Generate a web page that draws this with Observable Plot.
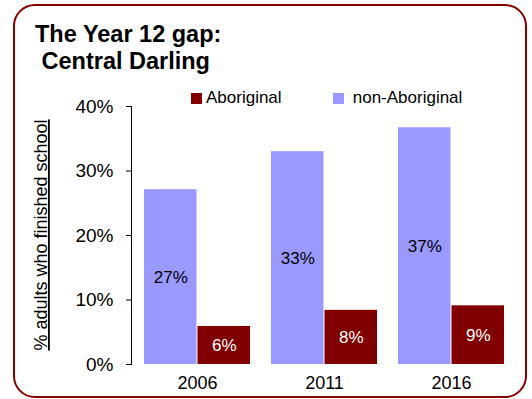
<!DOCTYPE html>
<html>
<head>
<meta charset="utf-8">
<script src="https://cdn.jsdelivr.net/npm/d3@7"></script>
<script src="https://cdn.jsdelivr.net/npm/@observablehq/plot@0.6"></script>
<style>
  html, body { margin: 0; padding: 0; background: #fff; }
  #wrap { position: relative; width: 532px; height: 399px; overflow: hidden; font-family: "Liberation Sans", Arial, sans-serif; }
  #border { position: absolute; left: 13px; top: 4px; width: 510px; height: 390px; border: 2.5px solid #850000; border-radius: 22px; pointer-events: none; }
  #title { position: absolute; left: 35px; top: 21px; font-weight: bold; font-size: 23.5px; line-height: 27px; color: #000; white-space: pre; }
  .leg { position: absolute; top: 88px; font-size: 17px; color: #000; display: flex; align-items: center; }
  .sw { width: 11px; height: 11px; display: inline-block; margin-right: 4px; }
  #chart { position: absolute; left: 0; top: 0; }
</style>
</head>
<body>
<div id="wrap">
  <div id="chart"></div>
  <div id="title">The Year 12 gap:
 Central Darling</div>
  <div class="leg" style="left:191px"><span class="sw" style="background:#800000"></span>Aboriginal</div>
  <div class="leg" style="left:333px"><span class="sw" style="background:#9999ff"></span>&nbsp;non-Aboriginal</div>
  <div id="border"></div>
</div>
<script>
const years = ["2006", "2011", "2016"];
const aboriginal = [5.9, 8.4, 9.1];
const nonAboriginal = [27.1, 33.0, 36.7];
const aboriginalLabels = ["6%", "8%", "9%"];
const nonAboriginalLabels = ["27%", "33%", "37%"];
const yTicks = [0, 10, 20, 30, 40];
const yTitle = "% adults who finished school";

const nonAbData = years.map((year, i) => ({year, value: nonAboriginal[i], label: nonAboriginalLabels[i]}));
const abData = years.map((year, i) => ({year, value: aboriginal[i], label: aboriginalLabels[i]}));

const half = 53.5;

const chart = Plot.plot({
  width: 532,
  height: 399,
  marginLeft: 131,
  marginRight: 14,
  marginTop: 106,
  marginBottom: 35,
  style: {fontFamily: "'Liberation Sans', Arial, sans-serif", background: "transparent", color: "#000"},
  x: {domain: years, paddingInner: 0.164, paddingOuter: 0.094, label: null},
  y: {domain: [0, 40], label: null},
  marks: [
    Plot.barY(nonAbData, {x: "year", y: "value", fill: "#9999ff", insetRight: half, insetLeft: 0}),
    Plot.barY(abData, {x: "year", y: "value", fill: "#800000", insetLeft: half, insetRight: 0}),
    Plot.text(nonAbData, {x: "year", y: d => d.value / 2, text: "label", dx: -half / 2, fill: "#000", fontSize: 17}),
    Plot.text(abData, {x: "year", y: d => d.value / 2, text: "label", dx: half / 2, fill: "#fff", fontSize: 17}),
    Plot.axisY({ticks: yTicks, tickFormat: d => d + "%", tickSize: 5, tickPadding: 13, fontSize: 19, label: null}),
    Plot.frame({anchor: "left", stroke: "#000"}),
    Plot.axisX({tickSize: 0, tickPadding: 12, fontSize: 18, label: null})
  ]
});
document.getElementById("chart").appendChild(chart);

d3.select(chart).append("text")
  .attr("x", 47).attr("y", 235)
  .attr("transform", "rotate(-90,47,235)")
  .attr("text-anchor", "middle")
  .style("font-size", "18px")
  .style("text-decoration", "underline")
  .style("font-family", "'Liberation Sans', Arial, sans-serif")
  .attr("fill", "#000")
  .text(yTitle);
</script>
</body>
</html>
